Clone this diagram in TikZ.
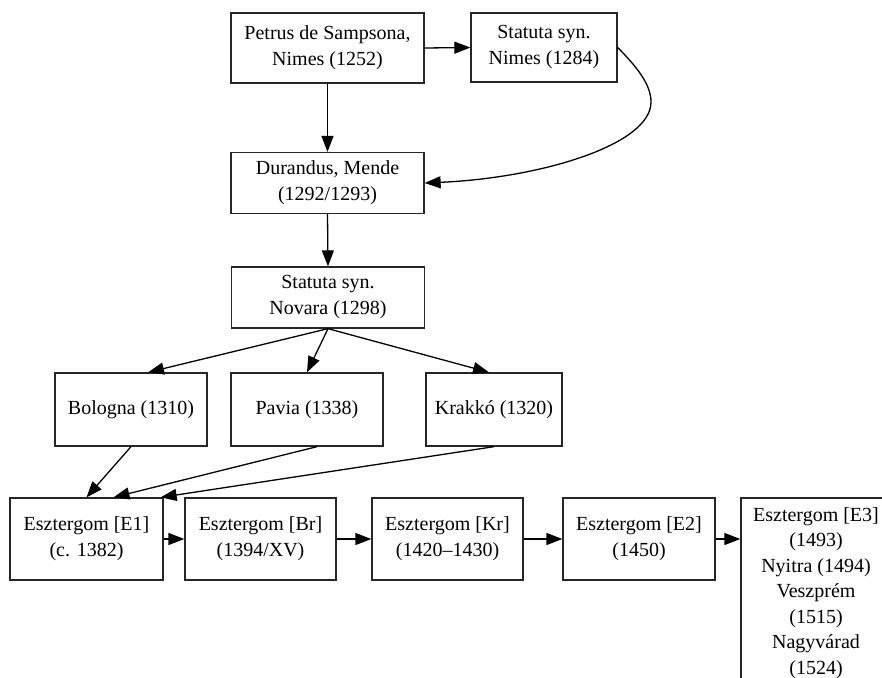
\documentclass[tikz,border=0pt]{standalone}
\usepackage{fontspec}
\setmainfont{Liberation Serif}
\usetikzlibrary{arrows.meta,calc}
\begin{document}
\begin{tikzpicture}[x=1pt,y=-1pt,
  box/.style={draw=black!85, line width=1.3pt, rectangle, inner sep=0pt, align=center,
    font=\fontsize{20}{26}\selectfont},
  edge/.style={line width=1.3pt, -{Triangle[length=16pt,width=12pt]}}]
\clip (0,0) rectangle (882,677);
\fill[white] (0,0) rectangle (882,677);
\node[box, minimum width=193pt, minimum height=70pt] (petrus) at (327.5,48) {Petrus de Sampsona,\\Nimes (1252)};
\node[box, minimum width=146pt, minimum height=69pt] (nimes) at (544,47.5) {Statuta syn.\\Nimes (1284)};
\node[box, minimum width=193pt, minimum height=61pt] (durandus) at (327.5,183) {Durandus, Mende\\(1292/1293)};
\node[box, minimum width=193pt, minimum height=61pt] (novara) at (328,297.5) {Statuta syn.\\Novara (1298)};
\node[box, minimum width=152pt, minimum height=73pt] (bologna) at (131,409.5) {Bologna (1310)};
\node[box, minimum width=152pt, minimum height=73pt] (pavia) at (307,409.5) {Pavia (1338)};
\node[box, minimum width=136pt, minimum height=73pt] (krakko) at (494,409.5) {Krakkó (1320)};
\node[box, minimum width=153pt, minimum height=82pt] (e1) at (86.5,539) {Esztergom [E1]\\(c. 1382)};
\node[box, minimum width=151pt, minimum height=82pt] (br) at (260.5,539) {Esztergom [Br]\\(1394/XV)};
\node[box, minimum width=151pt, minimum height=82pt] (kr) at (447.5,539) {Esztergom [Kr]\\(1420–1430)};
\node[box, minimum width=152pt, minimum height=82pt] (e2) at (639,539) {Esztergom [E2]\\(1450)};
\node[box, minimum width=150pt, minimum height=196pt, font=\fontsize{20}{25.5}\selectfont] (e3) at (816,596) {};
\node[font=\fontsize{20}{25.5}\selectfont, align=center, inner sep=0pt] (e3text) at (816,593) {Esztergom [E3]\\(1493)\\Nyitra (1494)\\Veszprém\\(1515)\\Nagyvárad\\(1524)};

\draw[edge] (petrus.east) -- (nimes.west);
\draw[edge] (petrus.south) -- (durandus.north);
\draw[edge] (nimes.east) .. controls (636,66) and (651,84) .. (651,102)
   .. controls (651,145) and (540,178) .. (durandus.east);
\draw[edge] (durandus.south) -- (novara.north);
\draw[edge] (novara.south) -- ([xshift=17pt]bologna.north);
\draw[edge] (novara.south) -- (pavia.north);
\draw[edge] (novara.south) -- ([xshift=-5pt]krakko.north);
\draw[edge] (bologna.south) -- (e1.north);
\draw[edge] ([xshift=10pt]pavia.south) -- ([xshift=27pt]e1.north);
\draw[edge] (krakko.south) -- ([xshift=-3pt]e1.north east);
\draw[edge] (e1.east) -- (br.west);
\draw[edge] (br.east) -- (kr.west);
\draw[edge] (kr.east) -- (e2.west);
\draw[edge] (e2.east) -- (e3.west |- e2.east);
\end{tikzpicture}
\end{document}
